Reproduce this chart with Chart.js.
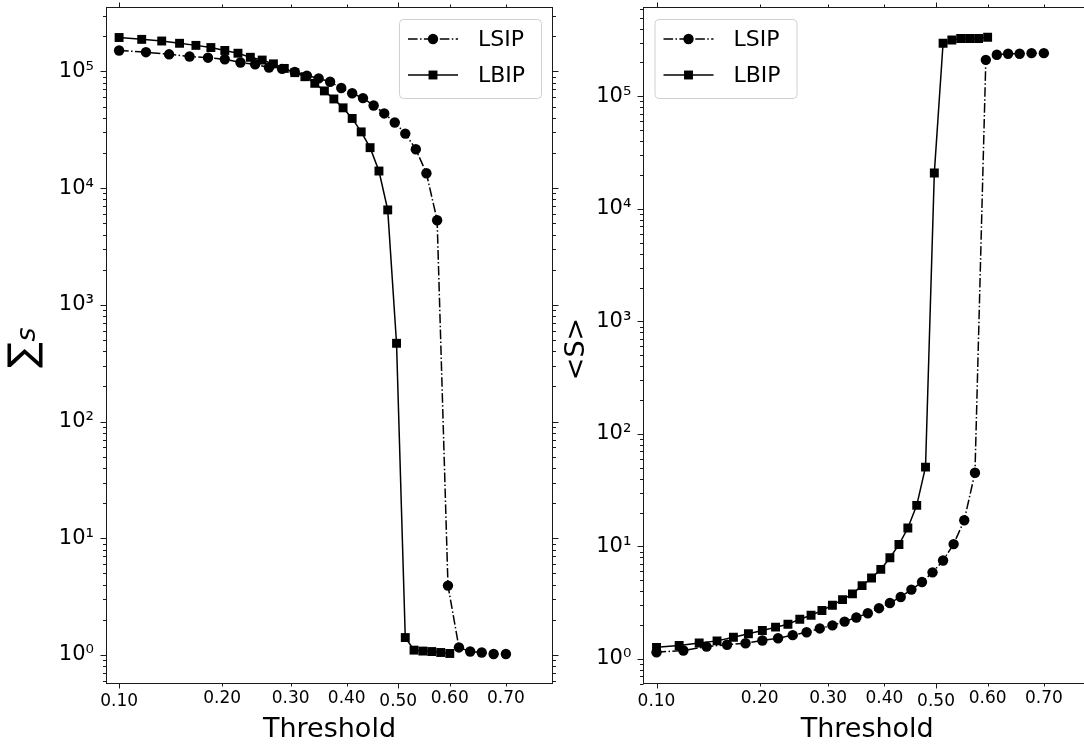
<!DOCTYPE html>
<html>
<head>
<meta charset="utf-8">
<style>
  html, body { margin: 0; padding: 0; background: #fff; overflow: hidden; }
  #wrap { position: relative; width: 1084px; height: 746px; overflow: hidden; }
  canvas { position: absolute; top: 0; }
  #left { left: 0; }
  #right { left: 560px; }
</style>
<script src="https://cdn.jsdelivr.net/npm/chart.js@4.4.1/dist/chart.umd.min.js"></script>
</head>
<body>
<div id="wrap">
  <canvas id="left" width="560" height="746"></canvas>
  <canvas id="right" width="540" height="746"></canvas>
</div>
<script>
// thresholds used for each model
const lsipThreshold = [0.1000, 0.1207, 0.1414, 0.1621, 0.1828, 0.2034, 0.2241, 0.2448, 0.2655, 0.2862,
                       0.3069, 0.3276, 0.3483, 0.3690, 0.3897, 0.4103, 0.4310, 0.4517, 0.4724, 0.4931,
                       0.5138, 0.5345, 0.5552, 0.5759, 0.5966, 0.6172, 0.6379, 0.6586, 0.6793, 0.7000];
const lbipThreshold = [0.1000, 0.1172, 0.1345, 0.1517, 0.1690, 0.1862, 0.2034, 0.2207, 0.2379, 0.2552,
                       0.2724, 0.2897, 0.3069, 0.3241, 0.3414, 0.3586, 0.3759, 0.3931, 0.4103, 0.4276,
                       0.4448, 0.4621, 0.4793, 0.4966, 0.5138, 0.5310, 0.5483, 0.5655, 0.5828, 0.6000];

// left panel: sum of S
const lsipSum = [1.51e5, 1.46e5, 1.40e5, 1.34e5, 1.31e5, 1.27e5, 1.19e5, 1.15e5, 1.08e5, 1.05e5,
                 9.9e4, 9.2e4, 8.7e4, 8.15e4, 7.2e4, 6.5e4, 5.9e4, 5.1e4, 4.36e4, 3.65e4,
                 2.93e4, 2.15e4, 1.34e4, 5.3e3, 3.93, 1.16, 1.07, 1.05, 1.02, 1.02];
const lbipSum = [1.95e5, 1.88e5, 1.82e5, 1.74e5, 1.67e5, 1.60e5, 1.51e5, 1.43e5, 1.32e5, 1.25e5,
                 1.16e5, 1.06e5, 9.75e4, 9.0e4, 7.9e4, 6.8e4, 5.8e4, 4.87e4, 3.95e4, 3.03e4,
                 2.22e4, 1.40e4, 6.5e3, 468, 1.41, 1.10, 1.08, 1.07, 1.05, 1.03];

// right panel: mean S
const lsipMean = [1.15, 1.19, 1.29, 1.34, 1.38, 1.46, 1.53, 1.63, 1.73, 1.87,
                  1.99, 2.15, 2.34, 2.55, 2.83, 3.15, 3.56, 4.14, 4.83, 5.89,
                  7.51, 10.5, 17.1, 45.2, 2.11e5, 2.34e5, 2.39e5, 2.39e5, 2.42e5, 2.42e5];
const lbipMean = [1.27, 1.32, 1.39, 1.45, 1.56, 1.68, 1.79, 1.92, 2.04, 2.26,
                  2.45, 2.70, 3.01, 3.37, 3.79, 4.49, 5.25, 6.26, 7.94, 10.4,
                  14.6, 23.2, 50.7, 2.08e4, 2.96e5, 3.17e5, 3.26e5, 3.26e5, 3.26e5, 3.35e5];

const xTickValues = [0.1, 0.2, 0.3, 0.4, 0.5, 0.6, 0.7];
const xTickLabels = ['0.10', '0.20', '0.30', '0.40', '0.50', '0.60', '0.70'];
const xMajorTicks = [0.1, 0.5];
const yTickValues = [1, 10, 100, 1000, 10000, 100000];
const yTickLabels = ['10⁰', '10¹', '10²', '10³', '10⁴', '10⁵'];

const FONT = "'DejaVu Sans', sans-serif";
const logit = p => Math.log(p / (1 - p));

// matplotlib style logit axis
class LogitScale extends Chart.LinearScale {
    getPixelForValue(value) {
        const a = logit(this.min), b = logit(this.max);
        return this.getPixelForDecimal((logit(value) - a) / (b - a));
    }
    getValueForPixel(pixel) {
        const a = logit(this.min), b = logit(this.max);
        const v = a + this.getDecimalForPixel(pixel) * (b - a);
        return 1 / (1 + Math.exp(-v));
    }
}
LogitScale.id = 'logit';
LogitScale.defaults = {};
Chart.register(LogitScale);

function logTicks(scale) {
    const ticks = [];
    for (let e = -1; e <= 6; e++) {
        for (let m = 1; m <= 9; m++) {
            const v = m * Math.pow(10, e);
            if (v >= scale.min && v <= scale.max) ticks.push({ value: v, major: m === 1 });
        }
    }
    scale.ticks = ticks;
}

// box + outward ticks on all four sides
const framePlugin = {
    id: 'frame',
    afterDatasetsDraw(chart) {
        const { ctx, chartArea: a, scales: { x, y } } = chart;
        const L = Math.round(a.left) + 0.5, R = Math.round(a.right) - 0.5;
        const T = Math.round(a.top) + 0.5, B = Math.round(a.bottom) - 0.5;
        ctx.save();
        ctx.strokeStyle = '#1a1a1a';
        ctx.lineWidth = 1;
        ctx.strokeRect(L, T, R - L, B - T);
        ctx.beginPath();
        x.ticks.forEach(t => {
            const px = Math.round(x.getPixelForValue(t.value)) + 0.5;
            const len = t.major ? 5 : 3;
            ctx.moveTo(px, B); ctx.lineTo(px, B + len);
            ctx.moveTo(px, T); ctx.lineTo(px, T - len);
        });
        y.ticks.forEach(t => {
            const py = Math.round(y.getPixelForValue(t.value)) + 0.5;
            const len = t.major ? 6 : 3.5;
            ctx.moveTo(L, py); ctx.lineTo(L - len, py);
            ctx.moveTo(R, py); ctx.lineTo(R + len, py);
        });
        ctx.stroke();
        ctx.restore();
    }
};

function legendPlugin(bx) {
    return {
        id: 'mplLegend',
        afterDraw(chart) {
            const ctx = chart.ctx;
            const by = 19, bw = 142, bh = 79;
            ctx.save();
            ctx.beginPath();
            ctx.roundRect(bx + 0.5, by + 0.5, bw, bh, 4);
            ctx.fillStyle = 'rgba(255,255,255,0.8)';
            ctx.fill();
            ctx.strokeStyle = '#d0d0d0';
            ctx.lineWidth = 1;
            ctx.stroke();
            chart.data.datasets.forEach((ds, i) => {
                const cy = by + 20 + i * 36;
                ctx.setLineDash(ds.borderDash || []);
                ctx.strokeStyle = '#000';
                ctx.lineWidth = ds.borderWidth;
                ctx.beginPath();
                ctx.moveTo(bx + 9, cy);
                ctx.lineTo(bx + 59, cy);
                ctx.stroke();
                ctx.setLineDash([]);
                ctx.fillStyle = '#000';
                Chart.helpers.drawPoint(ctx, { pointStyle: ds.pointStyle, radius: ds.pointRadius, borderWidth: 0, rotation: 0 }, bx + 34, cy);
                ctx.font = '22px ' + FONT;
                ctx.textBaseline = 'middle';
                ctx.textAlign = 'left';
                ctx.fillText(ds.label, bx + 79, cy + 1);
            });
            ctx.restore();
        }
    };
}

function yLabelPlugin(draw) {
    return { id: 'yLabel', afterDraw(chart) { const ctx = chart.ctx; ctx.save(); draw(ctx); ctx.restore(); } };
}

function makeDatasets(lsipVals, lbipVals) {
    return [
        {
            label: 'LSIP',
            data: lsipThreshold.map((x, i) => ({ x, y: lsipVals[i] })),
            borderColor: '#000',
            borderWidth: 1.5,
            borderDash: [9.6, 2.4, 1.5, 2.4],
            pointStyle: 'circle',
            pointRadius: 5.2,
            pointBackgroundColor: '#000',
            pointBorderWidth: 0,
            order: 1
        },
        {
            label: 'LBIP',
            data: lbipThreshold.map((x, i) => ({ x, y: lbipVals[i] })),
            borderColor: '#000',
            borderWidth: 1.5,
            pointStyle: 'rect',
            pointRadius: 6.3,
            pointBackgroundColor: '#000',
            pointBorderWidth: 0,
            order: 0
        }
    ];
}

function makeOptions(yMin, yMax, yWidth, rightPad) {
    return {
        responsive: false,
        animation: false,
        events: [],
        layout: { padding: { top: 7, right: rightPad, left: 0, bottom: 0 } },
        plugins: { legend: { display: false }, tooltip: { enabled: false } },
        scales: {
            x: {
                type: 'logit',
                min: 0.0911,
                max: 0.7717,
                bounds: 'data',
                grid: { display: false, drawTicks: false },
                border: { display: false },
                afterBuildTicks: s => {
                    s.ticks = xTickValues.map(v => ({ value: v, major: xMajorTicks.includes(v) }));
                },
                afterFit: s => {
                    s.height = 62;
                    s.paddingLeft = 0;
                    s.paddingRight = 0;
                },
                ticks: {
                    autoSkip: false,
                    maxRotation: 0,
                    padding: 5,
                    color: '#000',
                    font: c => ({ family: FONT, size: 17, lineHeight: (c.tick && c.tick.major) ? '26px' : '20px' }),
                    callback: v => xTickLabels[xTickValues.indexOf(v)]
                },
                title: {
                    display: true,
                    text: 'Threshold',
                    color: '#000',
                    font: { family: FONT, size: 27 },
                    padding: { top: 0, bottom: 0 }
                }
            },
            y: {
                type: 'logarithmic',
                min: yMin,
                max: yMax,
                grid: { display: false, drawTicks: false },
                border: { display: false },
                afterBuildTicks: logTicks,
                afterFit: s => {
                    s.width = yWidth;
                    s.paddingTop = 0;
                    s.paddingBottom = 0;
                },
                ticks: {
                    autoSkip: false,
                    padding: 12,
                    color: '#000',
                    font: { family: FONT, size: 21 },
                    callback: v => {
                        const k = yTickValues.indexOf(v);
                        return k >= 0 ? yTickLabels[k] : '';
                    }
                }
            }
        }
    };
}

// left panel
new Chart(document.getElementById('left'), {
    type: 'line',
    data: { datasets: makeDatasets(lsipSum, lbipSum) },
    options: makeOptions(0.564, 3.56e5, 106, 7),
    plugins: [framePlugin, legendPlugin(399), yLabelPlugin(ctx => {
        ctx.translate(35, 368);
        ctx.rotate(-Math.PI / 2);
        ctx.fillStyle = '#000';
        ctx.textAlign = 'left';
        ctx.textBaseline = 'alphabetic';
        ctx.font = '38px ' + FONT;
        ctx.fillText('∑', 0, 0);
        const w = ctx.measureText('∑').width;
        ctx.font = 'italic 27px ' + FONT;
        ctx.fillText('s', w + 1, 0);
    })]
});

// right panel
new Chart(document.getElementById('right'), {
    type: 'line',
    data: { datasets: makeDatasets(lsipMean, lbipMean) },
    options: makeOptions(0.625, 6.22e5, 83.4, 9),
    plugins: [framePlugin, legendPlugin(94.5), yLabelPlugin(ctx => {
        ctx.translate(24, 349);
        ctx.rotate(-Math.PI / 2);
        ctx.fillStyle = '#000';
        ctx.textAlign = 'center';
        ctx.textBaseline = 'alphabetic';
        ctx.font = '27px ' + FONT;
        ctx.fillText('<S>', 0, 0);
    })]
});
</script>
</body>
</html>
